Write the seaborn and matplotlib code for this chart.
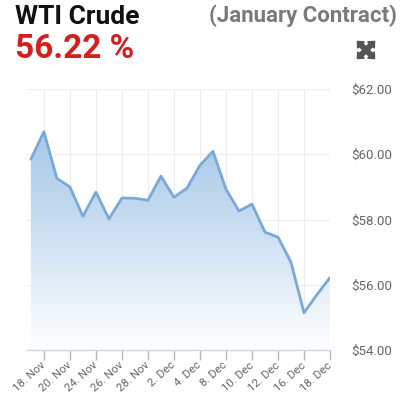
import numpy as np
import pandas as pd
import matplotlib
matplotlib.use("Agg")
import matplotlib.pyplot as plt
import seaborn as sns
from matplotlib.colors import LinearSegmentedColormap

# ---- data ----
prices = [59.85, 60.69, 59.26, 59.00, 58.10, 58.84, 58.02, 58.66, 58.65, 58.59,
          59.33, 58.68, 58.96, 59.66, 60.09, 58.93, 58.26, 58.47, 57.61, 57.46,
          56.69, 55.14, 55.70, 56.22]
tick_labels = ["18. Nov", "20. Nov", "24. Nov", "26. Nov", "28. Nov", "2. Dec",
               "4. Dec", "8. Dec", "10. Dec", "12. Dec", "16. Dec", "18. Dec"]
yticks = [54, 56, 58, 60, 62]
title = "WTI Crude"
subtitle = "(January Contract)"
last_value = "56.22 %"

df = pd.DataFrame({"idx": np.arange(len(prices)), "price": prices})

sns.set_theme(style="white")
plt.rcParams["font.family"] = ["Roboto", "DejaVu Sans"]

W, H = 412, 401
fig = plt.figure(figsize=(W / 100, H / 100), dpi=100)
ax = fig.add_axes([27 / W, 51 / H, 303 / W, 261 / H])

ax.set_xlim(-0.3, len(prices) - 1)
ax.set_ylim(54, 62)

# gradient fill under the line
cmap = LinearSegmentedColormap.from_list("g", ["#ffffff", "#c6dcf0", "#96bfe3"])
grad = np.linspace(0, 1, 256).reshape(-1, 1)
im = ax.imshow(grad, extent=[-0.3, len(prices) - 1, 54, 62], origin="lower",
               aspect="auto", cmap=cmap, zorder=1)
poly = ax.fill_between(df["idx"], df["price"], 54, color="none", zorder=1)
clip = poly.get_paths()[0]
im.set_clip_path(clip, transform=ax.transData)

sns.lineplot(data=df, x="idx", y="price", ax=ax, color="#79a9d6", linewidth=2, zorder=3)

tick_pos = np.arange(1, len(prices), 2)
ax.set_xticks(tick_pos)
ax.set_xticklabels(tick_labels, rotation=42, ha="right", va="center",
                   rotation_mode="anchor", fontsize=8.2, color="#666666")
ax.set_yticks(yticks)
ax.set_yticklabels([f"${v:.2f}" for v in yticks], fontsize=9.5, color="#666666")
ax.yaxis.tick_right()
ax.tick_params(axis="y", length=0, pad=15)
ax.tick_params(axis="x", length=7, width=1, color="#b8b8b8", pad=3, direction="out",
               bottom=True)
ax.grid(True, color="#ececec", linewidth=0.8, zorder=0)
ax.set_axisbelow(True)
for s in ["top", "left", "right"]:
    ax.spines[s].set_visible(False)
ax.spines["bottom"].set_color("#ccd6eb")
ax.spines["bottom"].set_linewidth(1)
ax.set_xlabel("")
ax.set_ylabel("")

# header texts
fig.text(15 / W, 1 - 17 / H, title, fontsize=19, fontweight="bold", color="#111111",
         va="center", ha="left")
fig.text(15 / W, 1 - 49 / H, last_value, fontsize=24, fontweight="bold",
         color="#d41f1f", va="center", ha="left")
fig.text(397 / W, 1 - 16 / H, subtitle, fontsize=16, fontweight="bold",
         color="#7a7a7a", va="center", ha="right")

# expand icon
cx, cy = 366 / W, 1 - 50 / H
for dx, dy in [(1, 1), (1, -1), (-1, 1), (-1, -1)]:
    fig.patches.append(matplotlib.patches.FancyArrow(
        cx, cy, dx * 5 / W, dy * 5 / H, width=4.5 / H, head_width=9 / H,
        head_length=5 / H, length_includes_head=False, color="#555555",
        transform=fig.transFigure, figure=fig))

fig.savefig("out.png", dpi=100)
